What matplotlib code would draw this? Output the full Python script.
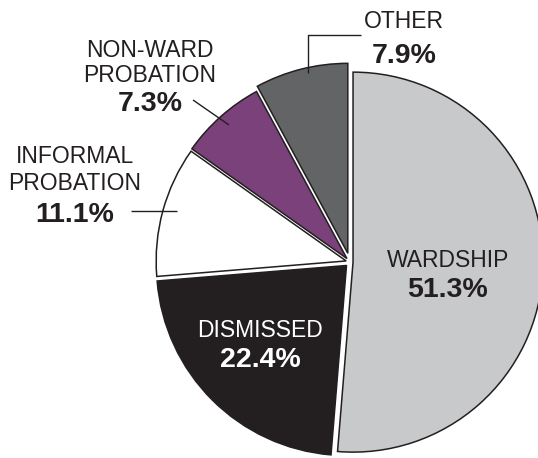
import matplotlib.pyplot as plt

plt.rcParams['font.family'] = ['Liberation Sans', 'DejaVu Sans']

# data
categories = ['WARDSHIP', 'DISMISSED', 'INFORMAL\nPROBATION', 'NON-WARD\nPROBATION', 'OTHER']
shares = [51.3, 22.4, 11.1, 7.3, 7.9]
colors = ['#c8c9cb', '#231f20', '#ffffff', '#7a417b', '#636466']
explode = [0.016, 0.026, 0.021, 0.024, 0.047]

# pie centre and radius in image pixels (top-left origin)
CX, CY, R = 350, 262, 190
W, H = 538, 458


def px(x, y):
    # image pixel -> data coords (radius 1 == R px)
    return (x - CX) / R, (CY - y) / R


fig = plt.figure(figsize=(W / 100, H / 100), dpi=100)
ax = fig.add_axes([0, 0, 1, 1])

ax.pie(shares, colors=colors, explode=explode, startangle=90, counterclock=False,
       radius=1, wedgeprops=dict(edgecolor='#231f20', linewidth=1.1))
ax.set_xlim(-CX / R, (W - CX) / R)
ax.set_ylim(-(H - CY) / R, CY / R)
ax.set_aspect('auto')
ax.axis('off')

dark = '#231f20'
lab = dict(fontsize=16.5, ha='center', va='baseline')
pct = dict(fontsize=20.5, fontweight='bold', ha='center', va='baseline')

# (category lines, x, baselines, percent baseline, text colour)
layout = [
    (['WARDSHIP'], 448, [267], 297, dark),
    (['DISMISSED'], 260, [337], 367, 'white'),
    (['INFORMAL', 'PROBATION'], 75, [163, 190], 222, dark),
    (['NON-WARD', 'PROBATION'], 150, [57, 82], 111, dark),
    (['OTHER'], 404, [28], 63, dark),
]
for share, (lines, x, ys, yp, c) in zip(shares, layout):
    for line, y in zip(lines, ys):
        ax.text(*px(x, y), line, color=c, **lab)
    ax.text(*px(x, yp), f'{share:.1f}%', color=c, **pct)

# leader lines
def leader(points):
    xs, ys = zip(*[px(x, y) for x, y in points])
    ax.plot(xs, ys, color=dark, lw=1.0, solid_capstyle='butt')

leader([(193, 100), (229, 125)])
leader([(131, 211), (177, 211)])
leader([(361, 35), (308, 35), (308, 73)])

fig.savefig('out.png', dpi=100)
